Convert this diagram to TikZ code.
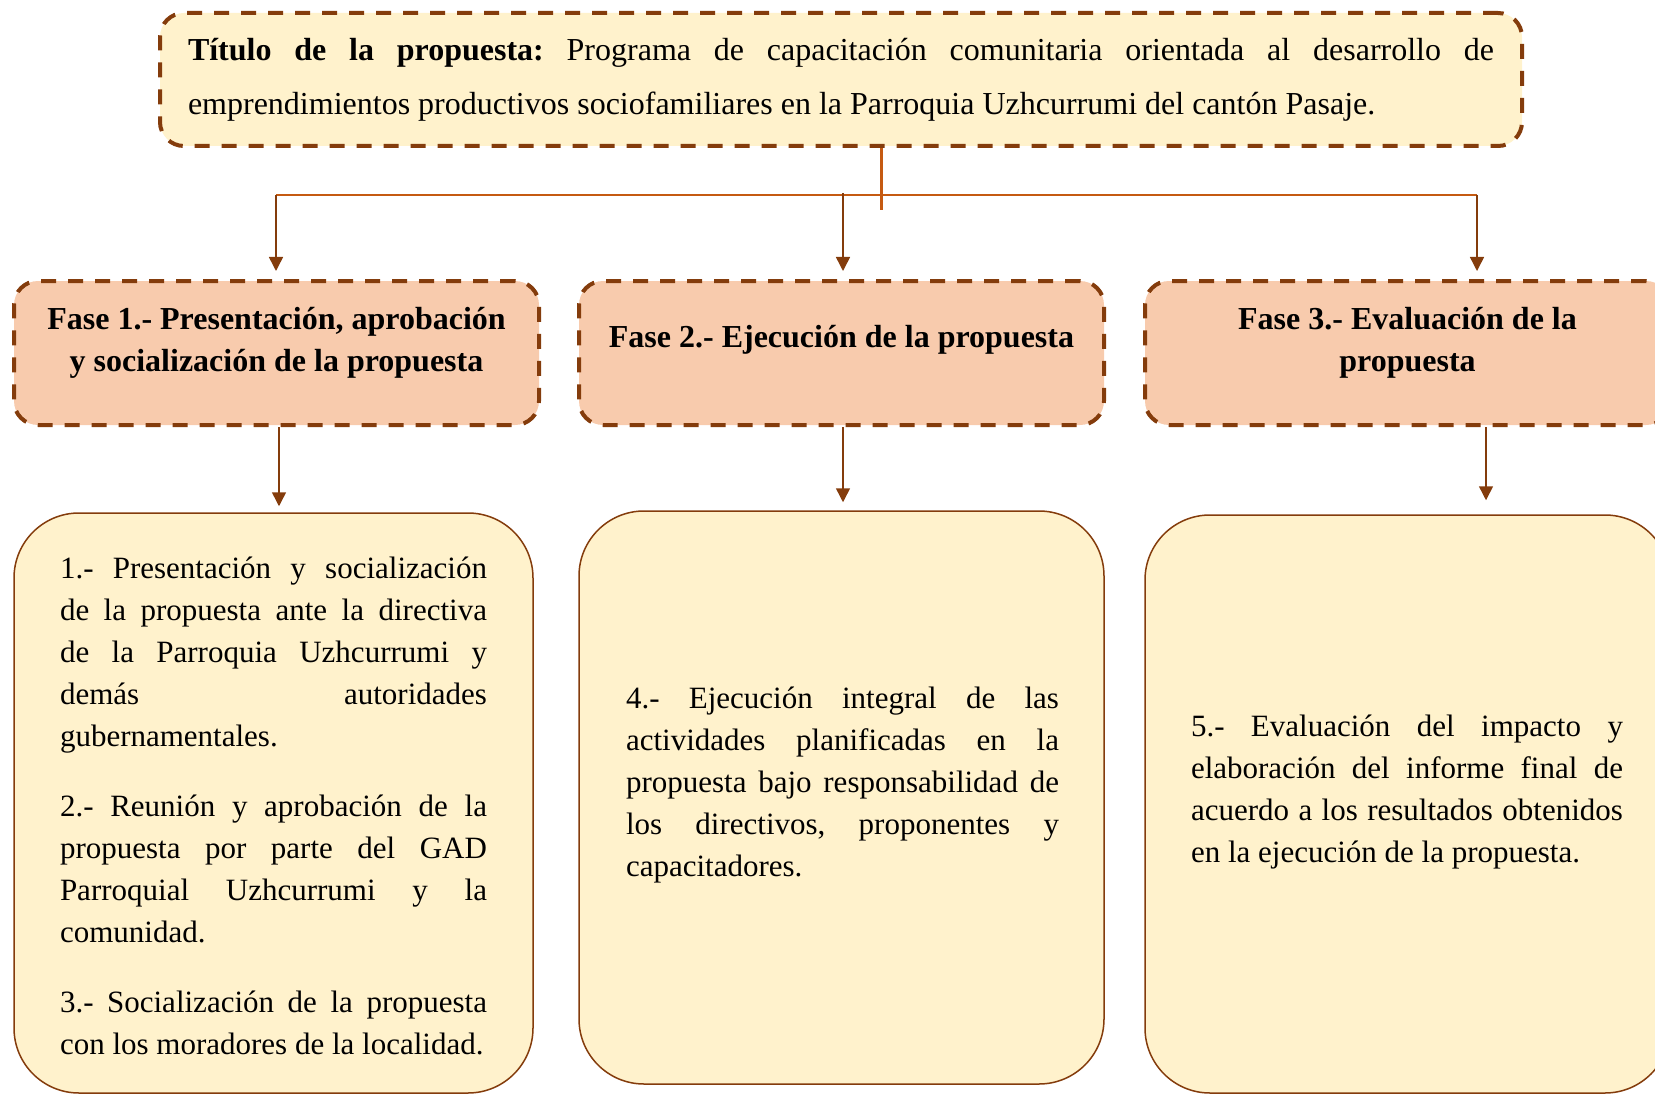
\documentclass[tikz,border=0pt]{standalone}
\usepackage{fontspec}
\setmainfont{Liberation Serif}
\usetikzlibrary{arrows.meta,positioning}
\frenchspacing
\definecolor{cafe}{HTML}{843C0C}
\definecolor{naranja}{HTML}{C55A11}
\definecolor{crema}{HTML}{FFF2CC}
\definecolor{salmon}{HTML}{F8CBAD}
\tikzset{
    punteada/.style={draw=cafe, line width=4pt, dash pattern=on 15pt off 12pt, rounded corners=24pt},
    titulo/.style={punteada, fill=crema, minimum width=1362pt, minimum height=133pt,
                   text width=1306pt, align=justify, inner sep=0pt,
                   font={\fontsize{32}{54}\selectfont\parindent=0pt}},
    fase/.style={punteada, fill=salmon, minimum width=525pt, minimum height=144pt},
    fasetxt/.style={align=center, inner sep=0pt, font=\fontsize{32}{42}\selectfont\bfseries},
    caja/.style={draw=cafe, line width=1.5pt, fill=crema, rounded corners=65pt, minimum width=525pt},
    cajatxt/.style={text width=432pt, align=justify, inner sep=0pt,
                    font={\fontsize{31}{42}\selectfont\parindent=0pt}},
    flecha/.style={draw=cafe, line width=1.5pt, -{Triangle[width=14pt,length=14pt]}},
    linea/.style={draw=naranja, line width=2pt}
}
\begin{document}
\begin{tikzpicture}[x=1pt,y=-1pt]
    \useasboundingbox (0,0) rectangle (1655,1094);

    % titulo
    \node[titulo] (tit) at (841,79.5) {\textbf{Título de la propuesta:} Programa de capacitación comunitaria orientada al desarrollo de\linebreak emprendimientos productivos sociofamiliares en la Parroquia Uzhcurrumi del cantón Pasaje.};

    % fases
    \node[fase] (f1) at (276.5,353) {};
    \node[fase] (f2) at (841.5,353) {};
    \node[fase] (f3) at (1407.5,353) {};
    \node[fasetxt] (tf1) at ([yshift=10pt]f1.center) {Fase 1.- Presentación, aprobación\\ y socialización de la propuesta};
    \node[fasetxt] (tf2) at ([yshift=13pt]f2.center) {Fase 2.- Ejecución de la propuesta};
    \node[fasetxt] (tf3) at ([yshift=10pt]f3.center) {Fase 3.- Evaluación de la\\ propuesta};

    % actividades
    \node[caja, minimum width=519pt, minimum height=580pt] (c1) at (273.5,803) {};
    \node[caja, minimum height=573pt] (c2) at (841.5,797.5) {};
    \node[caja, minimum height=578pt] (c3) at (1407.5,804) {};
    \node[cajatxt, text width=427pt] (t1) at (273.5,806) {1.- Presentación y socialización\linebreak de la propuesta ante la directiva\linebreak de la Parroquia Uzhcurrumi y\linebreak demás autoridades\linebreak gubernamentales.\\[28pt]2.- Reunión y aprobación de la\linebreak propuesta por parte del GAD\linebreak Parroquial Uzhcurrumi y la\linebreak comunidad.\\[28pt]3.- Socialización de la propuesta\linebreak con los moradores de la localidad.};
    \node[cajatxt, text width=433pt] (t2) at (842.5,785.5) {4.- Ejecución integral de las\linebreak actividades planificadas en la\linebreak propuesta bajo responsabilidad de\linebreak los directivos, proponentes y\linebreak capacitadores.};
    \node[cajatxt] (t3) at (1407,792.5) {5.- Evaluación del impacto y\linebreak elaboración del informe final de\linebreak acuerdo a los resultados obtenidos\linebreak en la ejecución de la propuesta.};

    % conectores
    \coordinate (r) at ([xshift=40pt]tit.south);
    \coordinate (h1) at (276,195);
    \coordinate (h2) at (843,193);
    \coordinate (h3) at (1477,195);
    \draw[linea, line width=3pt] (r) -- ++(0,62);
    \draw[linea] (h1) -- (h3);
    \draw[flecha, shorten >=8pt] (h1) -- (h1 |- f1.north);
    \draw[flecha, shorten >=8pt] (h2) -- (h2 |- f2.north);
    \draw[flecha, shorten >=8pt] (h3) -- (h3 |- f3.north);

    \coordinate (b1) at ([xshift=2.5pt]f1.south);
    \coordinate (b2) at ([xshift=1.5pt]f2.south);
    \coordinate (b3) at ([xshift=78.5pt]f3.south);
    \draw[flecha, shorten >=6pt] (b1) -- (b1 |- c1.north);
    \draw[flecha, shorten >=8pt] (b2) -- (b2 |- c2.north);
    \draw[flecha, shorten >=14pt] (b3) -- (b3 |- c3.north);
\end{tikzpicture}
\end{document}
